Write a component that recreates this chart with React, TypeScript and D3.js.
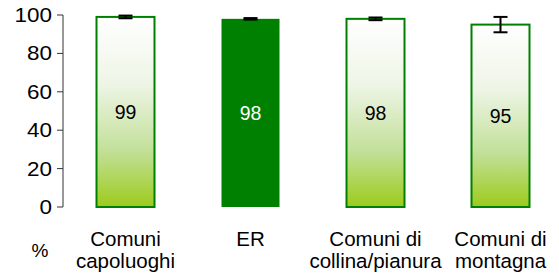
import React from 'react';
import * as d3 from 'd3';

// data
const categories = ['Comuni capoluoghi', 'ER', 'Comuni di collina/pianura', 'Comuni di montagna'];
const labelLines = [['Comuni', 'capoluoghi'], ['ER'], ['Comuni di', 'collina/pianura'], ['Comuni di', 'montagna']];
const values = [99, 98, 98, 95];
const labels = ['99', '98', '98', '95'];
const errors = [0.7, 0.4, 0.7, 4];
const highlight = [false, true, false, false];
const yTicks = [0, 20, 40, 60, 80, 100];

const width = 559;
const height = 279;
const left = 63;
const top = 15;
const bottom = 207;

export default function App() {
  const x = d3
    .scaleBand<string>()
    .domain(categories)
    .range([left, left + 500])
    .paddingInner(0.536)
    .paddingOuter(0.268);
  const y = d3.scaleLinear().domain([0, 100]).range([bottom, top]);
  const font = 'Arial, "Liberation Sans", sans-serif';

  return (
    <svg width={width} height={height} style={{ position: 'absolute', left: 0, top: 0 }} fontFamily={font}>
      <defs>
        <linearGradient id="barGrad" x1="0" y1="0" x2="0" y2="1">
          <stop offset="0%" stopColor="#ffffff" />
          <stop offset="35%" stopColor="#eef5e6" />
          <stop offset="70%" stopColor="#c3e09a" />
          <stop offset="100%" stopColor="#9ccb1c" />
        </linearGradient>
      </defs>

      {/* y axis */}
      <line x1={left} x2={left} y1={y(100)} y2={y(0)} stroke="#333" strokeWidth={1} />
      {yTicks.map((t) => (
        <g key={t}>
          <line x1={left - 6} x2={left} y1={y(t)} y2={y(t)} stroke="#333" strokeWidth={1} />
          <text
            transform={`translate(${left - 11},${y(t) + 7}) scale(1.15,1)`}
            textAnchor="end"
            fontSize={19.5}
            fill="#000"
          >
            {t}
          </text>
        </g>
      ))}

      {/* bars */}
      {categories.map((c, i) => {
        const x0 = x(c) as number;
        const bw = x.bandwidth();
        const yTop = y(values[i]);
        const cx = x0 + bw / 2;
        return (
          <g key={c}>
            <rect
              x={x0}
              y={yTop}
              width={bw}
              height={y(0) - yTop}
              fill={highlight[i] ? '#008000' : 'url(#barGrad)'}
              stroke="#008000"
              strokeWidth={highlight[i] ? 0 : 2}
            />
            <text
              x={cx}
              y={(yTop + y(0)) / 2}
              dy="0.35em"
              textAnchor="middle"
              fontSize={19.5}
              fill={highlight[i] ? '#fff' : '#000'}
            >
              {labels[i]}
            </text>
            {/* error bar */}
            <g stroke="#000" strokeWidth={2}>
              <line x1={cx} x2={cx} y1={y(values[i] + errors[i])} y2={y(values[i] - errors[i])} />
              <line x1={cx - 7} x2={cx + 7} y1={y(values[i] + errors[i])} y2={y(values[i] + errors[i])} />
              <line x1={cx - 7} x2={cx + 7} y1={y(values[i] - errors[i])} y2={y(values[i] - errors[i])} />
            </g>
            {/* category label */}
            {labelLines[i].map((l, k) => (
              <text key={k} x={cx} y={246 + k * 22} textAnchor="middle" fontSize={20.5} fill="#000">
                {l}
              </text>
            ))}
          </g>
        );
      })}

      <text x={40} y={257} textAnchor="middle" fontSize={19} fill="#000">
        %
      </text>
    </svg>
  );
}
